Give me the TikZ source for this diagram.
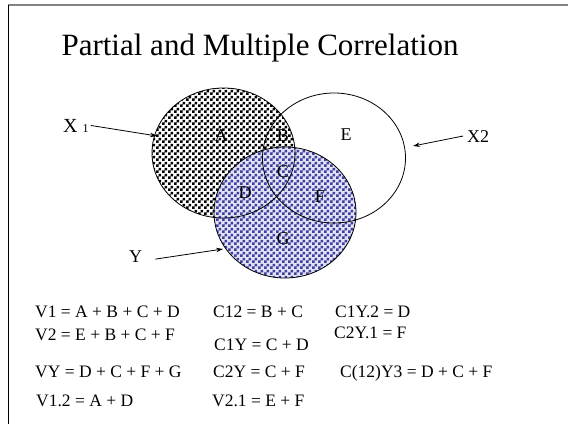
\documentclass[tikz,border=0pt]{standalone}
\usepackage{fontspec}
\setmainfont{Liberation Serif}
\usetikzlibrary{patterns,arrows.meta,shapes.geometric}
\pgfdeclarepatternformonly{bigchecker}{\pgfpointorigin}{\pgfqpoint{6pt}{6pt}}{\pgfqpoint{6pt}{6pt}}{%
  \pgfpathrectangle{\pgfpointorigin}{\pgfqpoint{3pt}{3pt}}%
  \pgfpathrectangle{\pgfqpoint{3pt}{3pt}}{\pgfqpoint{3pt}{3pt}}%
  \pgfusepath{fill}}
\definecolor{ychk}{RGB}{62,62,160}
\definecolor{yback}{RGB}{226,226,245}
\definecolor{framegray}{RGB}{130,130,130}
\tikzset{
  setbox/.style={ellipse, draw=black, line width=0.8pt, minimum width=143pt, minimum height=130pt, inner sep=0pt},
  lbl/.style={inner sep=0pt, font=\fontsize{18}{18}\selectfont},
  eqn/.style={inner sep=0pt, anchor=base west, font=\fontsize{17.5}{17.5}\selectfont},
  pointer/.style={-{Stealth[length=7pt,width=4.5pt]}, line width=0.8pt},
}
\begin{document}
\begin{tikzpicture}[x=1pt,y=1pt]
\useasboundingbox (0,0) rectangle (568,-424);
% frame
\draw[framegray, line width=1.5pt] (8,-5) -- (568,-5);
\draw[black, line width=1pt] (8,-5) -- (8,-424);
% title
\node[inner sep=0pt, anchor=base, font=\fontsize{31}{31}\selectfont] (title) at (260,-55) {Partial and Multiple Correlation};
% fills
\fill[white] (223.5,-153) ellipse [x radius=71.5, y radius=65];
\fill[pattern=bigchecker, pattern color=black] (223.5,-153) ellipse [x radius=71.5, y radius=65];
\fill[yback] (285,-212.5) ellipse [x radius=71, y radius=65.5];
\fill[pattern=bigchecker, pattern color=ychk] (285,-212.5) ellipse [x radius=71, y radius=65.5];
% outlines
\node[setbox] (x1) at (223.5,-153) {};
\node[setbox] (x2) at (334,-158) {};
\node[setbox, minimum width=142pt, minimum height=131pt] (y) at (285,-212.5) {};
% region letters
\node[lbl] (ra) at (221,-136) {A};
\node[lbl] (rb) at (283,-136) {B};
\node[lbl] (rc) at (283,-172) {C};
\node[lbl] (rd) at (245,-193) {D};
\node[lbl] (re) at (346,-135) {E};
\node[lbl] (rf) at (320,-197) {F};
\node[lbl] (rg) at (283,-239) {G};
% labels and pointers
\node[lbl, anchor=base west, font=\fontsize{20}{20}\selectfont] (lx1) at (63,-132) {X {\fontsize{12}{12}\selectfont 1}};
\node[lbl, anchor=base west] (lx2) at (467,-142) {X2};
\node[lbl, anchor=base west] (ly) at (129,-262) {Y};
\coordinate (tx1) at (157,-136);
\coordinate (tx2) at (413,-146);
\coordinate (ty) at (223,-249);
\draw[pointer] (lx1.east) ++(2,0) -- (tx1);
\draw[pointer] (lx2.west) ++(-4,0) -- (tx2);
\draw[pointer] (ly.east) ++(13,-3) -- (ty);
% equations
\node[eqn] (e1) at (35,-317) {V1 = A + B + C + D};
\node[eqn] (e2) at (35,-340) {V2 = E + B + C + F};
\node[eqn] (e3) at (35,-377) {VY = D + C + F + G};
\node[eqn] (e4) at (36,-406) {V1.2 = A + D};
\node[eqn] (e5) at (213,-317) {C12 = B + C};
\node[eqn] (e6) at (214,-350) {C1Y = C + D};
\node[eqn] (e7) at (213,-377) {C2Y = C + F};
\node[eqn] (e8) at (212,-406) {V2.1 = E + F};
\node[eqn] (e9) at (335,-317) {C1Y.2 = D};
\node[eqn] (e10) at (334,-338) {C2Y.1 = F};
\node[eqn] (e11) at (340,-377) {C(12)Y3 = D + C + F};
\end{tikzpicture}
\end{document}
